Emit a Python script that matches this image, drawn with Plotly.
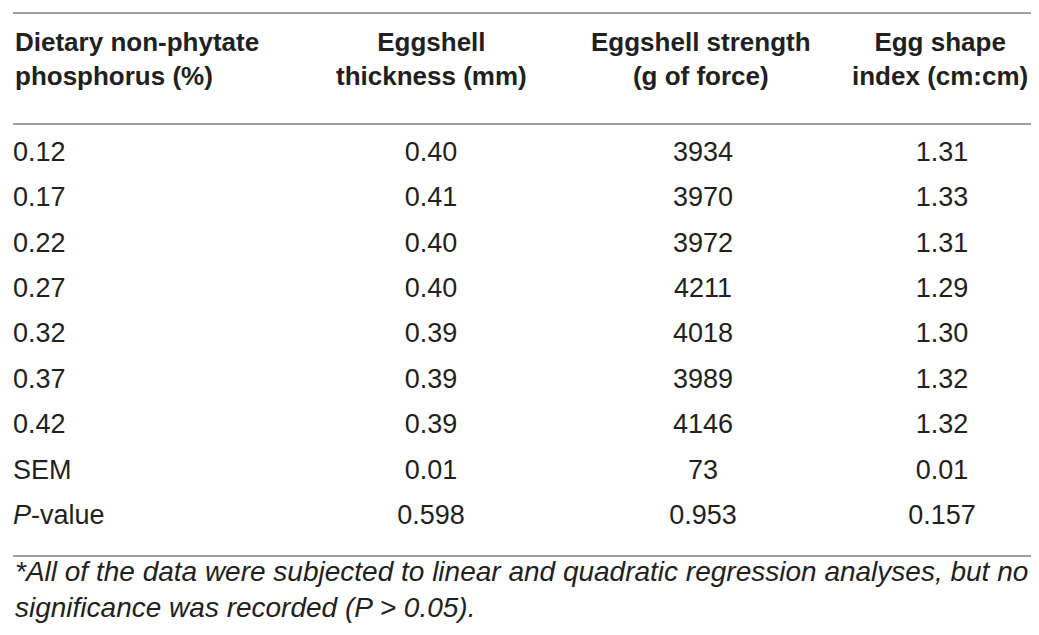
import plotly.graph_objects as go

# table content
header_labels = ["Dietary non-phytate<br>phosphorus (%)", "Eggshell<br>thickness (mm)",
                 "Eggshell strength<br>(g of force)", "Egg shape<br>index (cm:cm)"]
row_labels = ["0.12", "0.17", "0.22", "0.27", "0.32", "0.37", "0.42", "SEM", "<i>P</i>-value"]
eggshell_thickness = ["0.40", "0.41", "0.40", "0.40", "0.39", "0.39", "0.39", "0.01", "0.598"]
eggshell_strength = ["3934", "3970", "3972", "4211", "4018", "3989", "4146", "73", "0.953"]
egg_shape_index = ["1.31", "1.33", "1.31", "1.29", "1.30", "1.32", "1.32", "0.01", "0.157"]
footnote = ("*All of the data were subjected to linear and quadratic regression analyses, but no<br>"
            "significance was recorded (P &gt; 0.05).")

W, H = 1039, 635
text_color = "#231f20"
rule_color = "#a0a0a0"
font_family = "Liberation Sans"
fsize = 27

# column anchors in pixels (first column left aligned, rest centred)
col_x = [5, 423, 695, 934]
head_x = [5, 423, 693, 932]
first_row_y, row_step = 146, 45.4

fig = go.Figure()
columns = [row_labels, eggshell_thickness, eggshell_strength, egg_shape_index]
for i, col in enumerate(columns):
    fig.add_trace(go.Scatter(
        x=[col_x[i]] * len(col), y=row_labels, mode="text", text=col,
        textposition="middle right" if i == 0 else "middle center",
        textfont=dict(family=font_family, size=fsize, color=text_color),
        hoverinfo="skip", showlegend=False, cliponaxis=False))

# header
for i, h in enumerate(header_labels):
    fig.add_annotation(text="<b>" + h + "</b>", xref="x", yref="paper",
                       x=head_x[i], y=1 - 51 / H, xanchor="left" if i == 0 else "center",
                       yanchor="middle", align="left" if i == 0 else "center", showarrow=False,
                       font=dict(family=font_family, size=26, color=text_color))

# horizontal rules
for y in [5, 116, 548]:
    fig.add_shape(type="line", xref="paper", yref="paper", x0=5 / W, x1=1033 / W,
                  y0=1 - y / H, y1=1 - y / H, line=dict(color=rule_color, width=2))

fig.add_annotation(text="<i>" + footnote + "</i>", xref="paper", yref="paper",
                   x=5 / W, y=1 - 546 / H, xanchor="left", yanchor="top", align="left",
                   showarrow=False, font=dict(family=font_family, size=28, color=text_color))

y_top = (0 - first_row_y) / row_step
y_bot = (H - first_row_y) / row_step
fig.update_xaxes(range=[0, W], visible=False, fixedrange=True)
fig.update_yaxes(range=[y_bot, y_top], visible=False, fixedrange=True,
                 categoryorder="array", categoryarray=row_labels)
fig.update_layout(width=W, height=H, margin=dict(l=0, r=0, t=0, b=0),
                  paper_bgcolor="white", plot_bgcolor="white")
fig.write_html("out.html")
